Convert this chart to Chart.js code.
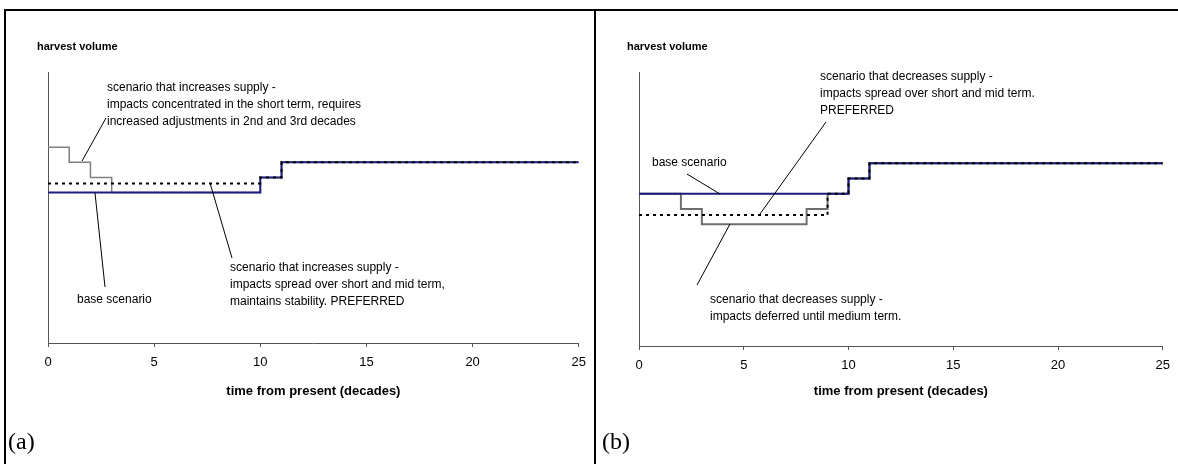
<!DOCTYPE html>
<html>
<head>
<meta charset="utf-8">
<script src="https://cdn.jsdelivr.net/npm/chart.js@4.4.1/dist/chart.umd.min.js"></script>
<style>
  html, body { margin: 0; padding: 0; background: #fff; }
  #page { position: relative; width: 1178px; height: 464px; overflow: hidden; }
  #frameTop { position: absolute; left: 5px; top: 9px; width: 1173px; height: 2px; background: #000; }
  #frameLeft { position: absolute; left: 4px; top: 9px; width: 2px; height: 455px; background: #000; }
  #frameMid { position: absolute; left: 594px; top: 9px; width: 2px; height: 455px; background: #000; }
  canvas { position: absolute; top: 0; }
  #chartA { left: 6px; }
  #chartB { left: 597px; }
</style>
</head>
<body>
<div id="page">
  <canvas id="chartA" width="588" height="464"></canvas>
  <canvas id="chartB" width="581" height="464"></canvas>
  <div id="frameTop"></div>
  <div id="frameLeft"></div>
  <div id="frameMid"></div>
</div>
<script>
// tempo (décadas) e volume relativo de colheita
const tempoBase = [0, 10, 11, 25];
const volumeBase = [100, 110, 120, 120];

// (a) cenários que aumentam a oferta
const tempoAumentoCurto = [0, 1, 2, 3, 10, 11, 25];
const volumeAumentoCurto = [130, 120, 110, 100, 110, 120, 120];
const tempoAumentoMedio = [0, 10, 11, 25];
const volumeAumentoMedio = [106, 110, 120, 120];

// (b) cenários que reduzem a oferta
const tempoReducaoMedio = [0, 9, 10, 11, 25];
const volumeReducaoMedio = [86, 100, 110, 120, 120];
const tempoReducaoAdiada = [0, 2, 3, 8, 9, 10, 11, 25];
const volumeReducaoAdiada = [100, 90, 80, 90, 100, 110, 120, 120];

const ticksX = [0, 5, 10, 15, 20, 25];

const fonte = "'Liberation Sans', Arial, sans-serif";

function pontos(xs, ys) {
  return xs.map((x, i) => ({ x: x, y: ys[i] }));
}

// textos e linhas de chamada (em pixels do canvas)
function pluginTextos(titulo, letra, notas) {
  return {
    id: "textos",
    afterDraw(chart) {
      const c = chart.ctx;
      c.save();
      c.fillStyle = "#000";
      c.textBaseline = "middle";
      c.font = "bold 11px " + fonte;
      c.fillText(titulo.texto, titulo.x, titulo.y);
      c.font = "24px 'Liberation Serif', 'Times New Roman', serif";
      c.fillText(letra.texto, letra.x, letra.y);

      c.strokeStyle = "#000";
      c.lineWidth = 1;
      notas.forEach(n => {
        c.beginPath();
        c.moveTo(n.linha[0], n.linha[1]);
        c.lineTo(n.linha[2], n.linha[3]);
        c.stroke();
        c.font = "12px " + fonte;
        n.linhas.forEach((t, i) => c.fillText(t, n.x, n.y + i * 17));
      });
      c.restore();
    }
  };
}

function criarGrafico(id, datasets, alturaX, larguraY, padDireita, textos) {
  return new Chart(document.getElementById(id), {
    type: "line",
    data: { datasets: datasets },
    options: {
      responsive: false,
      animation: false,
      layout: { padding: { top: 72, right: padDireita, left: 0, bottom: 0 } },
      plugins: { legend: { display: false }, tooltip: { enabled: false } },
      elements: { point: { radius: 0 }, line: { tension: 0 } },
      scales: {
        x: {
          type: "linear",
          min: 0,
          max: 25,
          afterBuildTicks: s => { s.ticks = ticksX.map(v => ({ value: v })); },
          ticks: { color: "#000", padding: 8, font: { family: fonte, size: 13 } },
          grid: { drawOnChartArea: false, drawTicks: true, tickLength: 4, color: "#555" },
          border: { color: "#555", width: 1 },
          title: {
            display: true,
            text: "time from present (decades)",
            color: "#000",
            font: { family: fonte, size: 13, weight: "bold" },
            padding: { top: 0, bottom: 65 }
          },
          afterFit: s => { s.height = alturaX; }
        },
        y: {
          min: 0,
          max: 180,
          ticks: { display: false },
          grid: { display: false },
          border: { color: "#555", width: 1 },
          afterFit: s => { s.width = larguraY; }
        }
      }
    },
    plugins: [textos]
  });
}

// tracejado por cima, base no meio, cenário em degraus por baixo
const estiloBase = { borderColor: "#1c1c80", borderWidth: 2, stepped: true, order: 1 };
const estiloTracejado = { borderColor: "#000", borderWidth: 2, borderDash: [3, 4], stepped: true, order: 0 };

criarGrafico("chartA", [
  { label: "scenario that increases supply - impacts concentrated in the short term", data: pontos(tempoAumentoCurto, volumeAumentoCurto), borderColor: "#808080", borderWidth: 1.5, stepped: true, order: 2 },
  Object.assign({ label: "base scenario", data: pontos(tempoBase, volumeBase) }, estiloBase),
  Object.assign({ label: "scenario that increases supply - impacts spread over short and mid term", data: pontos(tempoAumentoMedio, volumeAumentoMedio) }, estiloTracejado)
], 121, 42, 15, pluginTextos(
  { texto: "harvest volume", x: 31, y: 47 },
  { texto: "(a)", x: 2, y: 443 },
  [
    { linhas: ["scenario that increases supply -", "impacts concentrated in the short term, requires", "increased adjustments in 2nd and 3rd decades"], x: 101, y: 88, linha: [76, 161, 100, 118] },
    { linhas: ["scenario that increases supply -", "impacts spread over short and mid term,", "maintains stability. PREFERRED"], x: 224, y: 268, linha: [204, 183, 226, 258] },
    { linhas: ["base scenario"], x: 71, y: 300, linha: [89, 193, 99, 287] }
  ]
));

criarGrafico("chartB", [
  { label: "scenario that decreases supply - impacts deferred until medium term", data: pontos(tempoReducaoAdiada, volumeReducaoAdiada), borderColor: "#6e6e6e", borderWidth: 2, stepped: true, order: 2 },
  Object.assign({ label: "base scenario", data: pontos(tempoBase, volumeBase) }, estiloBase),
  Object.assign({ label: "scenario that decreases supply - impacts spread over short and mid term", data: pontos(tempoReducaoMedio, volumeReducaoMedio) }, estiloTracejado)
], 118, 42, 11, pluginTextos(
  { texto: "harvest volume", x: 30, y: 47 },
  { texto: "(b)", x: 5, y: 443 },
  [
    { linhas: ["scenario that decreases supply -", "impacts spread over short and mid term.", "PREFERRED"], x: 223, y: 77, linha: [163, 214, 229, 122] },
    { linhas: ["base scenario"], x: 55, y: 163, linha: [90, 174, 123, 194] },
    { linhas: ["scenario that decreases supply -", "impacts deferred until medium term."], x: 113, y: 300, linha: [133, 224, 100, 285] }
  ]
));
</script>
</body>
</html>
